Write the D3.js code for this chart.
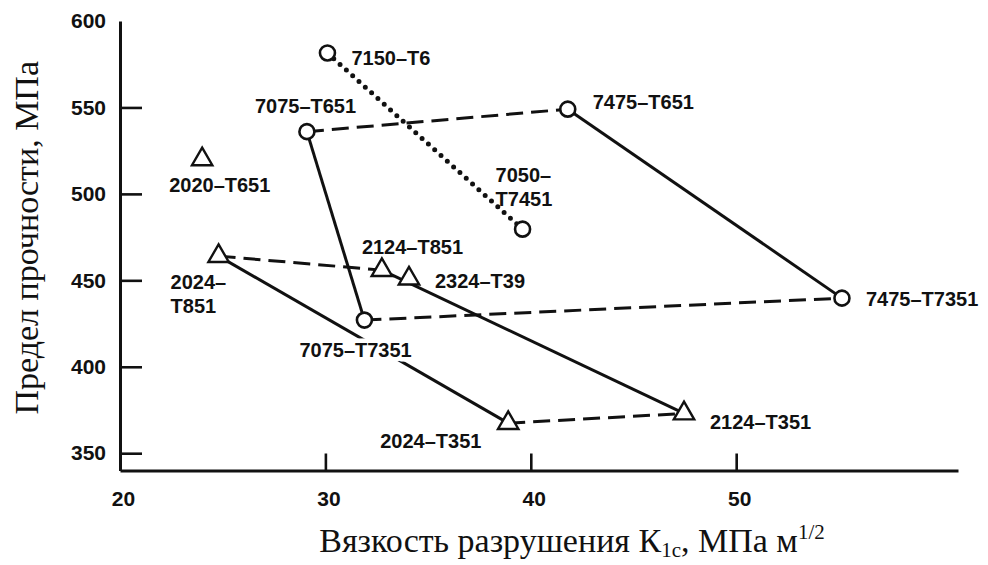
<!DOCTYPE html>
<html><head><meta charset="utf-8">
<script src="https://cdn.jsdelivr.net/npm/d3@7"></script>
<style>
body{margin:0;background:#fff}
svg{display:block}
.lbl{font-family:"Liberation Sans",Arial,sans-serif;font-weight:bold;font-size:20px;fill:#111}
.tick text{font-family:"Liberation Sans",Arial,sans-serif;font-weight:bold;font-size:21px;fill:#111}
.ttl{font-family:"Liberation Serif","Times New Roman",serif;font-size:34px;fill:#111}
</style></head>
<body>
<script>
// ---- data ----
const alloys = ["7150-T6","7075-T651","7475-T651","7050-T7451","7075-T7351","7475-T7351",
                "2020-T651","2024-T851","2124-T851","2324-T39","2024-T351","2124-T351"];
const toughness = [30.1, 29.1, 41.8, 39.6, 31.9, 55.15, 24.0, 24.8, 32.75, 34.07, 38.9, 47.46];
const strength  = [581.5, 536, 549, 479.6, 427, 439.7, 520, 464, 455.9, 451, 367.4, 373];
const markerType = ["circle","circle","circle","circle","circle","circle",
                    "triangle","triangle","triangle","triangle","triangle","triangle"];
const labelLines = [["7150–T6"],["7075–T651"],["7475–T651"],["7050–","T7451"],["7075–T7351"],["7475–T7351"],
                    ["2020–T651"],["2024–","T851"],["2124–T851"],["2324–T39"],["2024–T351"],["2124–T351"]];
// connections: [from, to, style]
const links = [
  ["7150-T6","7050-T7451","dotted"],
  ["7075-T651","7475-T651","dashed"],
  ["7475-T651","7475-T7351","solid"],
  ["7075-T651","7075-T7351","solid"],
  ["7075-T7351","7475-T7351","dashed"],
  ["2024-T851","2124-T851","dashed"],
  ["2024-T851","2024-T351","solid"],
  ["2124-T851","2124-T351","solid"],
  ["2024-T351","2124-T351","dashed"]
];
const xTicks = [20,30,40,50];
const yTicks = [350,400,450,500,550,600];
const xTitle = ["Вязкость разрушения К","1c",", МПа м","1/2"];
const yTitle = "Предел прочности, МПа";

// ---- layout (label offsets in px from point) ----
const labelOffset = {
  "7150-T6":[24,12],"7075-T651":[-52,-19],"7475-T651":[25,0],"7050-T7451":[-27,-47],
  "7075-T7351":[-65,37],"7475-T7351":[24,8],"2020-T651":[-33,33],"2024-T851":[-48,33],
  "2124-T851":[-20,-16],"2324-T39":[26,9],"2024-T351":[-128,25],"2124-T351":[26,16]
};
const haloLabels = new Set(["7075-T7351"]);

const W=988,H=565;
const svg=d3.select("body").append("svg").attr("width",W).attr("height",H);
const x=d3.scaleLinear().domain([20,60.8]).range([120,958]);
const y=d3.scaleLinear().domain([340,600]).range([470.5,21]);

const pts = alloys.map((a,i)=>({id:a,x:toughness[i],y:strength[i],type:markerType[i],lines:labelLines[i]}));
const byId = new Map(pts.map(p=>[p.id,p]));

// axes
const gx=svg.append("g").attr("transform",`translate(0,${y(340)})`)
  .call(d3.axisBottom(x).tickValues(xTicks).tickSizeInner(-17).tickSizeOuter(0).tickPadding(21).tickFormat(d3.format("d")));
gx.selectAll(".tick line").attr("stroke","#111").attr("stroke-width",2.6).attr("display",d=>d===20?"none":null);
gx.select(".domain").attr("stroke","#111").attr("stroke-width",3);
gx.selectAll(".tick text").attr("dx","3");

const gy=svg.append("g").attr("transform",`translate(${x(20)},0)`)
  .call(d3.axisLeft(y).tickValues(yTicks).tickSizeInner(-22).tickSizeOuter(0).tickPadding(14).tickFormat(d3.format("d")));
gy.selectAll(".tick line").attr("stroke","#111").attr("stroke-width",2.6).attr("display",d=>d===600?"none":null);
gy.select(".domain").attr("stroke","#111").attr("stroke-width",3);

// links
const dash={solid:null,dashed:"17 8",dotted:"0 8.5"};
svg.append("g").selectAll("line").data(links).join("line")
  .attr("x1",d=>x(byId.get(d[0]).x)).attr("y1",d=>y(byId.get(d[0]).y))
  .attr("x2",d=>x(byId.get(d[1]).x)).attr("y2",d=>y(byId.get(d[1]).y))
  .attr("stroke","#111")
  .attr("stroke-width",d=>d[2]==="dotted"?5:3)
  .attr("stroke-linecap",d=>d[2]==="dotted"?"round":"butt")
  .attr("stroke-dasharray",d=>dash[d[2]]);

// labels
const lg=svg.append("g");
pts.forEach(p=>{
  const o=labelOffset[p.id];
  const t=lg.append("text").attr("class","lbl")
    .attr("x",x(p.x)+o[0]).attr("y",y(p.y)+o[1]);
  if(haloLabels.has(p.id)) t.attr("stroke","#fff").attr("stroke-width",9).attr("paint-order","stroke").attr("stroke-linejoin","round");
  p.lines.forEach((s,i)=>t.append("tspan").attr("x",x(p.x)+o[0]).attr("dy",i===0?0:24).text(s));
});

// markers
const tri=d3.symbol().type(d3.symbolTriangle).size(180);
const mg=svg.append("g");
pts.forEach(p=>{
  if(p.type==="circle"){
    mg.append("circle").attr("cx",x(p.x)).attr("cy",y(p.y)).attr("r",7.5)
      .attr("fill","#fff").attr("stroke","#111").attr("stroke-width",2.6);
  } else {
    mg.append("path").attr("d",tri).attr("transform",`translate(${x(p.x)},${y(p.y)})`)
      .attr("fill","#fff").attr("stroke","#111").attr("stroke-width",2.4).attr("stroke-linejoin","miter");
  }
});

// titles
const xt=svg.append("text").attr("class","ttl").attr("x",572).attr("y",552).attr("text-anchor","middle");
xt.append("tspan").text(xTitle[0]);
xt.append("tspan").attr("font-size","21px").attr("dy",5).text(xTitle[1]);
xt.append("tspan").attr("dy",-5).text(xTitle[2]);
xt.append("tspan").attr("font-size","21px").attr("dy",-13).text(xTitle[3]);

svg.append("text").attr("class","ttl")
  .attr("transform",`translate(38,${(y(600)+y(340))/2-8}) rotate(-90)`)
  .attr("text-anchor","middle").text(yTitle);
</script>
</body></html>
